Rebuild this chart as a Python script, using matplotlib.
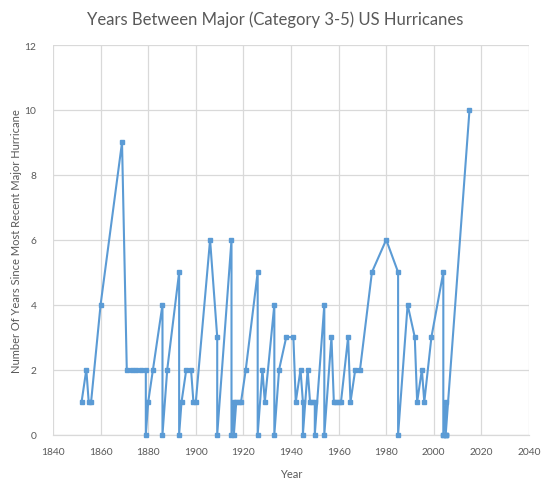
import matplotlib
matplotlib.use("Agg")
import matplotlib.pyplot as plt

# major US hurricane years and gap (years) since the previous one
years = [1852, 1854, 1855, 1856, 1860, 1869, 1871, 1873, 1875, 1877, 1879, 1879,
         1880, 1882, 1886, 1886, 1888, 1893, 1893, 1894, 1896, 1898, 1899, 1900,
         1906, 1909, 1909, 1915, 1915, 1916, 1916, 1917, 1918, 1919, 1921, 1926,
         1926, 1928, 1929, 1933, 1933, 1935, 1938, 1941, 1942, 1944, 1945, 1945,
         1947, 1948, 1949, 1950, 1950, 1954, 1954, 1957, 1958, 1959, 1960, 1961,
         1964, 1965, 1967, 1969, 1974, 1980, 1985, 1985, 1989, 1992, 1993, 1995,
         1996, 1999, 2004, 2004, 2004, 2005, 2005, 2005, 2005, 2015]
gaps = [1, 2, 1, 1, 4, 9, 2, 2, 2, 2, 2, 0,
        1, 2, 4, 0, 2, 5, 0, 1, 2, 2, 1, 1,
        6, 3, 0, 6, 0, 1, 0, 1, 1, 1, 2, 5,
        0, 2, 1, 4, 0, 2, 3, 3, 1, 2, 1, 0,
        2, 1, 1, 1, 0, 4, 0, 3, 1, 1, 1, 1,
        3, 1, 2, 2, 5, 6, 5, 0, 4, 3, 1, 2,
        1, 3, 5, 0, 0, 1, 0, 0, 0, 10]

x_ticks = list(range(1840, 2041, 20))
y_ticks = list(range(0, 13, 2))

grey = "#595959"
grid = "#D9D9D9"
blue = "#5B9BD5"

plt.rcParams['font.family'] = ['Lato', 'DejaVu Sans']

fig = plt.figure(figsize=(5.54, 4.89), dpi=100)
ax = fig.add_axes([53 / 554, 1 - 435.5 / 489, 476 / 554, 389.5 / 489])

ax.plot(years, gaps, color=blue, lw=1.5, marker='s', ms=2.6, mec=blue, mfc=blue,
        clip_on=False, zorder=3)

ax.set_xlim(1840, 2040)
ax.set_ylim(0, 12)
ax.set_xticks(x_ticks)
ax.set_yticks(y_ticks)
ax.grid(True, color=grid, lw=0.9)
ax.set_axisbelow(True)
for s in ['top', 'right', 'left']:
    ax.spines[s].set_visible(False)
ax.spines['bottom'].set_color(grid)
ax.spines['bottom'].set_linewidth(0.9)
ax.tick_params(length=0, labelsize=7.4, labelcolor=grey)
ax.tick_params(axis='x', pad=9)
ax.tick_params(axis='y', pad=12)

ax.set_xlabel("Year", color=grey, fontsize=8, labelpad=9)
ax.set_ylabel("Number Of Years Since Most Recent Major Hurricane", color=grey,
              fontsize=8, labelpad=2)
fig.text(0.497, 1 - 20 / 489, "Years Between Major (Category 3-5) US Hurricanes",
         ha='center', va='center', color=grey, fontsize=12)

fig.savefig("out.png", dpi=100)
